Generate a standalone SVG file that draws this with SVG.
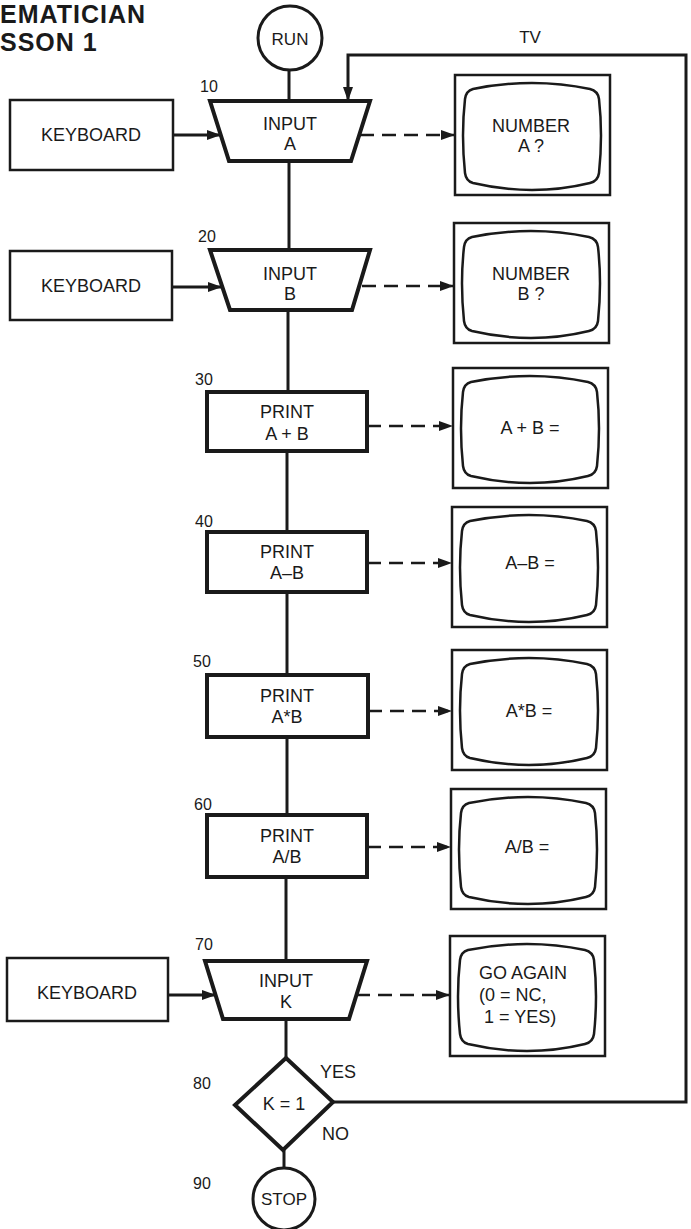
<svg xmlns="http://www.w3.org/2000/svg" xmlns:xlink="http://www.w3.org/1999/xlink" width="691" height="1229" viewBox="0 0 691 1229">
<style>
.s{fill:none;stroke:#1a1a1a;stroke-linejoin:miter}
.thick{stroke-width:4}
.med{stroke-width:3}
.thin{stroke-width:2.5}
.c{fill:none;stroke:#1a1a1a;stroke-width:3}
.d{fill:none;stroke:#1a1a1a;stroke-width:2.5;stroke-dasharray:14 8}
.t{font-family:"Liberation Sans",Arial,Helvetica,sans-serif;font-size:18px;fill:#1a1a1a;text-anchor:middle}
.l{text-anchor:start}
.n{font-family:"Liberation Sans",Arial,Helvetica,sans-serif;font-size:16px;fill:#1a1a1a}
.title{font-family:"Liberation Sans",Arial,Helvetica,sans-serif;font-size:25px;font-weight:bold;letter-spacing:1px;fill:#1a1a1a}
</style>
<defs>
<marker id="ah" viewBox="0 0 14 10" refX="14" refY="5" markerWidth="14" markerHeight="10" markerUnits="userSpaceOnUse" orient="auto">
<path d="M0,0 L14,5 L0,10 Z" fill="#1a1a1a"/>
</marker>
<g id="tv">
<rect x="0" y="0" width="155" height="120" fill="none" stroke="#1a1a1a" stroke-width="2.5"/>
<path d="M18,14 Q77.5,2 135,14 Q143,16 144,24 Q148,60 144,98 Q143,106 135,108 Q77.5,122 18,108 Q11,106 10,98 Q6,60 10,24 Q11,16 18,14 Z" fill="none" stroke="#1a1a1a" stroke-width="2.5"/>
</g>
</defs>
<rect width="691" height="1229" fill="#ffffff"/>

<g id="title">
<text class="title" x="0" y="23">EMATICIAN</text>
<text class="title" x="0" y="51">SSON 1</text>
</g>

<g id="connectors">
<line class="c" x1="289" y1="70" x2="289" y2="101"/>
<line class="c" x1="289" y1="161" x2="289" y2="250"/>
<line class="c" x1="288" y1="310" x2="288" y2="392"/>
<line class="c" x1="287" y1="451" x2="287" y2="532"/>
<line class="c" x1="287" y1="592" x2="287" y2="675"/>
<line class="c" x1="287" y1="737" x2="287" y2="815"/>
<line class="c" x1="286" y1="877" x2="286" y2="961"/>
<line class="c" x1="286" y1="1019" x2="286" y2="1058"/>
<line class="c" x1="284" y1="1150" x2="284" y2="1168"/>
<polyline class="c" points="333,1102 686,1102 686,55 348,55 348,101" marker-end="url(#ah)"/>
<line class="c" x1="173" y1="135" x2="221" y2="135" marker-end="url(#ah)"/>
<line class="c" x1="172" y1="287" x2="222" y2="287" marker-end="url(#ah)"/>
<line class="c" x1="168" y1="995" x2="216" y2="995" marker-end="url(#ah)"/>
<line class="d" x1="360" y1="135" x2="455" y2="135" marker-end="url(#ah)"/>
<line class="d" x1="362" y1="286" x2="454" y2="286" marker-end="url(#ah)"/>
<line class="d" x1="367" y1="426" x2="453" y2="426" marker-end="url(#ah)"/>
<line class="d" x1="367" y1="563" x2="452" y2="563" marker-end="url(#ah)"/>
<line class="d" x1="368" y1="711" x2="452" y2="711" marker-end="url(#ah)"/>
<line class="d" x1="367" y1="847" x2="451" y2="847" marker-end="url(#ah)"/>
<line class="d" x1="356" y1="995" x2="450" y2="995" marker-end="url(#ah)"/>
<text class="t" x="530" y="43" style="font-size:17px">TV</text>
</g>

<g id="run">
<circle class="s med" cx="290" cy="38" r="32"/>
<text class="t" x="290" y="45" style="font-size:17px">RUN</text>
</g>

<g id="kb1">
<rect class="s thin" x="10" y="100" width="163" height="70"/>
<text class="t" x="91" y="141">KEYBOARD</text>
</g>
<g id="n10">
<text class="n" x="200" y="92">10</text>
<path class="s thick" d="M210,101 L370,101 L351,161 L229,161 Z"/>
<text class="t" x="290" y="130">INPUT</text>
<text class="t" x="290" y="150">A</text>
</g>
<g id="tv1">
<use xlink:href="#tv" x="455" y="75"/>
<text class="t" x="531" y="132">NUMBER</text>
<text class="t" x="531" y="152">A ?</text>
</g>

<g id="kb2">
<rect class="s thin" x="10" y="251" width="162" height="69"/>
<text class="t" x="91" y="292">KEYBOARD</text>
</g>
<g id="n20">
<text class="n" x="198" y="242">20</text>
<path class="s thick" d="M210,250 L370,250 L352,310 L230,310 Z"/>
<text class="t" x="290" y="280">INPUT</text>
<text class="t" x="290" y="300">B</text>
</g>
<g id="tv2">
<use xlink:href="#tv" x="454" y="223"/>
<text class="t" x="531" y="280">NUMBER</text>
<text class="t" x="531" y="300">B ?</text>
</g>

<g id="n30">
<text class="n" x="195" y="385">30</text>
<rect class="s thick" x="207" y="392" width="160" height="59"/>
<text class="t" x="287" y="418">PRINT</text>
<text class="t" x="287" y="440">A + B</text>
</g>
<g id="tv3">
<use xlink:href="#tv" x="453" y="368"/>
<text class="t" x="530" y="434">A + B =</text>
</g>

<g id="n40">
<text class="n" x="195" y="527">40</text>
<rect class="s thick" x="207" y="532" width="160" height="60"/>
<text class="t" x="287" y="558">PRINT</text>
<text class="t" x="287" y="579">A–B</text>
</g>
<g id="tv4">
<use xlink:href="#tv" x="452" y="507"/>
<text class="t" x="530" y="569">A–B =</text>
</g>

<g id="n50">
<text class="n" x="193" y="667">50</text>
<rect class="s thick" x="207" y="675" width="161" height="62"/>
<text class="t" x="287" y="702">PRINT</text>
<text class="t" x="287" y="723">A*B</text>
</g>
<g id="tv5">
<use xlink:href="#tv" x="452" y="650"/>
<text class="t" x="529" y="717">A*B =</text>
</g>

<g id="n60">
<text class="n" x="194" y="810">60</text>
<rect class="s thick" x="207" y="815" width="160" height="62"/>
<text class="t" x="287" y="842">PRINT</text>
<text class="t" x="287" y="863">A/B</text>
</g>
<g id="tv6">
<use xlink:href="#tv" x="451" y="789"/>
<text class="t" x="527" y="853">A/B =</text>
</g>

<g id="kb3">
<rect class="s thin" x="7" y="958" width="161" height="63"/>
<text class="t" x="87" y="999">KEYBOARD</text>
</g>
<g id="n70">
<text class="n" x="195" y="950">70</text>
<path class="s thick" d="M205,961 L367,961 L349,1019 L223,1019 Z"/>
<text class="t" x="286" y="987">INPUT</text>
<text class="t" x="286" y="1008">K</text>
</g>
<g id="tv7">
<use xlink:href="#tv" x="450" y="936"/>
<text class="t l" x="479" y="979">GO AGAIN</text>
<text class="t l" x="479" y="1001">(0 = NC,</text>
<text class="t l" x="484" y="1023">1 = YES)</text>
</g>

<g id="n80">
<text class="n" x="193" y="1089">80</text>
<path class="s thick" d="M286,1058 L333,1102 L283,1150 L235,1105 Z"/>
<text class="t" x="284" y="1110">K = 1</text>
<text class="t l" x="320" y="1078">YES</text>
<text class="t l" x="322" y="1140">NO</text>
</g>

<g id="n90">
<text class="n" x="193" y="1189">90</text>
<circle class="s med" cx="284" cy="1199" r="31"/>
<text class="t" x="284" y="1205" style="font-size:17px">STOP</text>
</g>
</svg>
